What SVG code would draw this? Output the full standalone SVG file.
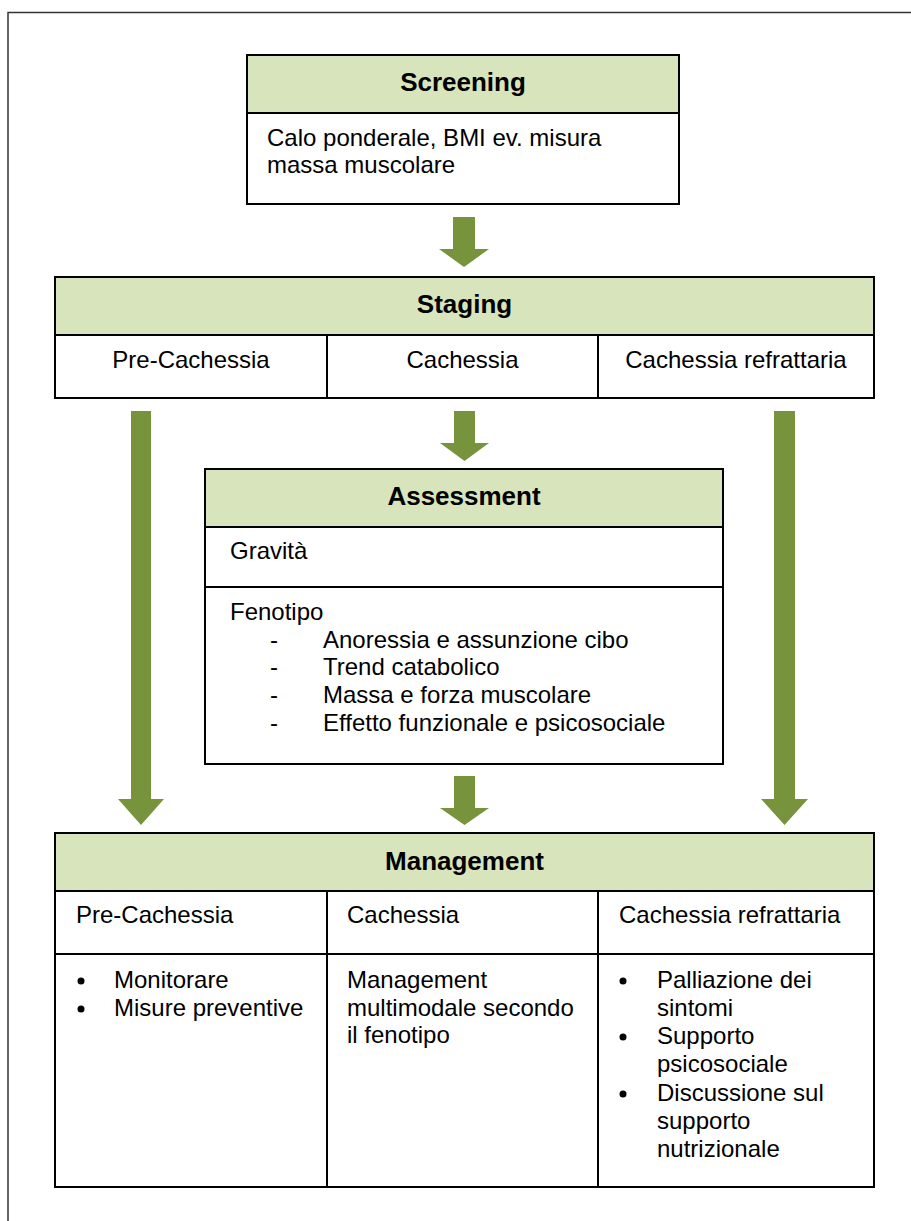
<svg xmlns="http://www.w3.org/2000/svg" width="911" height="1221" viewBox="0 0 911 1221">
<style>
.frame{fill:none;stroke:#333;stroke-width:1.5}
.box{fill:#fff;stroke:#000;stroke-width:2}
.hdr{fill:#d7e4bc;stroke:#000;stroke-width:2}
.ln{stroke:#000;stroke-width:2;fill:none}
.t{font-family:"Liberation Sans",Arial,sans-serif;font-size:24px;fill:#000}
.b{font-family:"Liberation Sans",Arial,sans-serif;font-size:26px;font-weight:bold;fill:#000;text-anchor:middle}
.c{text-anchor:middle}
.arrow{fill:#77933c}
.dot{fill:#000}
</style>
<rect class="frame" x="8" y="12.5" width="920" height="1230"/>
<g id="connectors">
<polygon class="arrow" points="453,217 475,217 475,249 489,249 464,267 439,249 453,249"/>
<polygon class="arrow" points="454,411 475,411 475,443 489,443 464.5,461 440,443 454,443"/>
<polygon class="arrow" points="454,776 475,776 475,808 489,808 464.5,825 440,808 454,808"/>
<polygon class="arrow" points="131,411 151,411 151,799 164,799 141,825 118,799 131,799"/>
<polygon class="arrow" points="774,411 795,411 795,799 808,799 784.5,825 761,799 774,799"/>
</g>
<g id="screening">
<rect class="box" x="247" y="55" width="432" height="149"/>
<rect class="hdr" x="247" y="55" width="432" height="58"/>
<text class="b" x="463" y="91">Screening</text>
<text class="t" x="267" y="146">Calo ponderale, BMI ev. misura</text>
<text class="t" x="267" y="173">massa muscolare</text>
</g>
<g id="staging">
<rect class="box" x="55" y="277" width="819" height="121"/>
<rect class="hdr" x="55" y="277" width="819" height="58"/>
<line class="ln" x1="327" y1="335" x2="327" y2="398"/>
<line class="ln" x1="598" y1="335" x2="598" y2="398"/>
<text class="b" x="464.5" y="313">Staging</text>
<text class="t c" x="191" y="368">Pre-Cachessia</text>
<text class="t c" x="462.5" y="368">Cachessia</text>
<text class="t c" x="736" y="368">Cachessia refrattaria</text>
</g>
<g id="assessment">
<rect class="box" x="205" y="469" width="518" height="295"/>
<rect class="hdr" x="205" y="469" width="518" height="58"/>
<line class="ln" x1="205" y1="587" x2="723" y2="587"/>
<text class="b" x="464" y="505">Assessment</text>
<text class="t" x="230" y="559">Gravità</text>
<text class="t" x="230" y="620">Fenotipo</text>
<text class="t" x="270" y="647.5">-</text>
<text class="t" x="323" y="647.5">Anoressia e assunzione cibo</text>
<text class="t" x="270" y="675">-</text>
<text class="t" x="323" y="675">Trend catabolico</text>
<text class="t" x="270" y="703">-</text>
<text class="t" x="323" y="703">Massa e forza muscolare</text>
<text class="t" x="270" y="730.5">-</text>
<text class="t" x="323" y="730.5">Effetto funzionale e psicosociale</text>
</g>
<g id="management">
<rect class="box" x="55" y="833" width="819" height="354"/>
<rect class="hdr" x="55" y="833" width="819" height="58"/>
<line class="ln" x1="55" y1="954" x2="874" y2="954"/>
<line class="ln" x1="327" y1="891" x2="327" y2="1187"/>
<line class="ln" x1="598" y1="891" x2="598" y2="1187"/>
<text class="b" x="464.5" y="870">Management</text>
<text class="t" x="76" y="923">Pre-Cachessia</text>
<text class="t" x="347" y="923">Cachessia</text>
<text class="t" x="619" y="923">Cachessia refrattaria</text>
<circle class="dot" cx="81" cy="981" r="3.5"/>
<text class="t" x="114" y="988">Monitorare</text>
<circle class="dot" cx="81" cy="1009" r="3.5"/>
<text class="t" x="114" y="1016">Misure preventive</text>
<text class="t" x="347" y="988">Management</text>
<text class="t" x="347" y="1015.5">multimodale secondo</text>
<text class="t" x="347" y="1043">il fenotipo</text>
<circle class="dot" cx="623" cy="981" r="3.5"/>
<text class="t" x="657" y="988">Palliazione dei</text>
<text class="t" x="657" y="1016">sintomi</text>
<circle class="dot" cx="623" cy="1037" r="3.5"/>
<text class="t" x="657" y="1044">Supporto</text>
<text class="t" x="657" y="1072">psicosociale</text>
<circle class="dot" cx="623" cy="1094" r="3.5"/>
<text class="t" x="657" y="1101">Discussione sul</text>
<text class="t" x="657" y="1129">supporto</text>
<text class="t" x="657" y="1157">nutrizionale</text>
</g>
</svg>
